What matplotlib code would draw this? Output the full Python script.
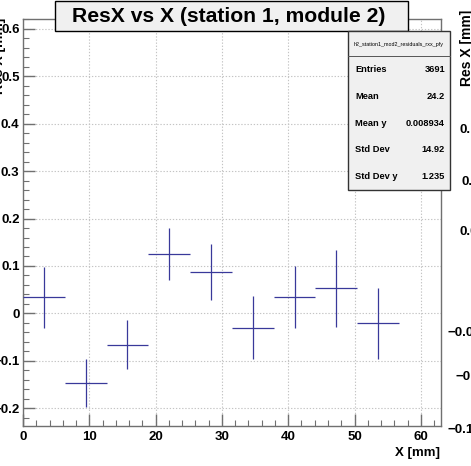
import matplotlib
matplotlib.use("Agg")
import matplotlib.pyplot as plt
from matplotlib.patches import Rectangle
from matplotlib.ticker import MultipleLocator, FixedLocator

# ---- data ----
x_centers = [3.15, 9.45, 15.75, 22.05, 28.35, 34.65, 40.95, 47.25, 53.55]
x_halfwidth = [3.15] * 9
res_values = [0.034, -0.147, -0.066, 0.125, 0.088, -0.030, 0.034, 0.053, -0.021]
res_errors = [0.064, 0.050, 0.052, 0.055, 0.059, 0.066, 0.065, 0.081, 0.075]

x_ticks = [0, 10, 20, 30, 40, 50, 60]
y_ticks = [-0.2, -0.1, 0, 0.1, 0.2, 0.3, 0.4, 0.5, 0.6]
y_ticklabels = ["\u22120.2", "\u22120.1", "0", "0.1", "0.2", "0.3", "0.4", "0.5", "0.6"]

title = "ResX vs X (station 1, module 2)"
hist_name = "h2_station1_mod2_residuals_rxx_pfy"
stat_names = ["Entries", "Mean", "Mean y", "Std Dev", "Std Dev y"]
stat_values = ["3691", "24.2", "0.008934", "14.92", "1.235"]

right_pad_labels = ["0.15", "0.1", "0.05", "\u22120.05", "\u22120.1", "\u22120.15"]
right_pad_label_pos = [(460, 130), (462, 182), (460, 232), (448, 333), (455, 377), (448, 430)]

# ---- figure ----
W, H = 471, 466
plt.rcParams['font.family'] = ['Liberation Sans', 'DejaVu Sans']
fig = plt.figure(figsize=(W / 100, H / 100), dpi=100)

def fx(px):
    return px / W

def fy(py):
    return 1 - py / H

ax_l, ax_r, ax_t, ax_b = 23, 440.7, 19, 425.7
ax = fig.add_axes([fx(ax_l), fy(ax_b), fx(ax_r) - fx(ax_l), fy(ax_t) - fy(ax_b)])
ax.set_xlim(0, 63)
ax.set_ylim(-0.237, 0.621)

gridc = '#c4c4c4'
ax.grid(True, which='major', color=gridc, linestyle=(0, (1.2, 1.6)), linewidth=0.8)
ax.set_axisbelow(True)

ax.errorbar(x_centers, res_values, xerr=x_halfwidth, yerr=res_errors,
            fmt='none', ecolor='#39399a', elinewidth=0.9, capsize=0, zorder=3)

spc = '#707070'
for s in ax.spines.values():
    s.set_color(spc)
    s.set_linewidth(1.0)

ax.xaxis.set_major_locator(FixedLocator(x_ticks))
ax.xaxis.set_minor_locator(MultipleLocator(2))
ax.yaxis.set_major_locator(FixedLocator(y_ticks))
ax.yaxis.set_minor_locator(MultipleLocator(0.02))
ax.set_xticklabels([str(t) for t in x_ticks])
ax.set_yticklabels(y_ticklabels)

ax.tick_params(axis='both', which='both', direction='in', color=spc,
               top=False, right=False)
ax.tick_params(axis='both', which='major', length=8.8, width=1.0)
ax.tick_params(axis='both', which='minor', length=4.4, width=0.8)
ax.tick_params(axis='y', which='major', pad=2.5, labelsize=9.5)
ax.tick_params(axis='x', which='major', pad=4, labelsize=9.5)
for lab in ax.get_xticklabels() + ax.get_yticklabels():
    lab.set_fontweight('bold')

# axis titles
fig.text(fx(440), fy(453), "X [mm]", ha='right', va='center',
         fontsize=9.5, fontweight='bold')
fig.text(fx(-1), fy(18), "Res X [mm]", ha='center', va='top', rotation=90,
         fontsize=10, fontweight='bold')

# title box
tb_l, tb_r, tb_t, tb_b = 55, 408, 1, 31
fig.patches.append(Rectangle((fx(tb_l), fy(tb_b)), fx(tb_r) - fx(tb_l), fy(tb_t) - fy(tb_b),
                             transform=fig.transFigure, facecolor='#f0f0f0',
                             edgecolor='black', linewidth=1.0, zorder=5))
fig.text(fx((tb_l + tb_r) / 2 - 3), fy(16.5), title, ha='center', va='center',
         fontsize=15.2, fontweight='bold', zorder=6)

# stats box
sb_l, sb_r, sb_t, sb_b = 348, 450, 31, 190
fig.patches.append(Rectangle((fx(sb_l), fy(sb_b)), fx(sb_r) - fx(sb_l), fy(sb_t) - fy(sb_b),
                             transform=fig.transFigure, facecolor='#f0f0f0',
                             edgecolor='#333333', linewidth=1.0, zorder=5))
sep_y = 56
fig.lines.append(plt.Line2D([fx(sb_l), fx(sb_r)], [fy(sep_y), fy(sep_y)],
                            transform=fig.transFigure, color='#555555',
                            linewidth=0.7, zorder=6))
fig.text(fx((sb_l + sb_r) / 2), fy(44.5), hist_name, ha='center', va='center',
         fontsize=3.9, zorder=6)
row_h = (sb_b - sep_y) / len(stat_names)
for i, (nm, val) in enumerate(zip(stat_names, stat_values)):
    yy = sep_y + row_h * (i + 0.5)
    fig.text(fx(355), fy(yy), nm, ha='left', va='center', fontsize=6.7,
             fontweight='bold', zorder=6)
    fig.text(fx(445), fy(yy), val, ha='right', va='center', fontsize=6.7,
             fontweight='bold', zorder=6)

# partially visible neighbouring pad on the right
for lab, (px, py) in zip(right_pad_labels, right_pad_label_pos):
    fig.text(fx(px), fy(py), lab, ha='left', va='center', fontsize=9.5,
             fontweight='bold')
fig.text(fx(467), fy(10), "Res X [mm]", ha='center', va='top', rotation=90,
         fontsize=10, fontweight='bold')

fig.savefig("out.png", dpi=100)
